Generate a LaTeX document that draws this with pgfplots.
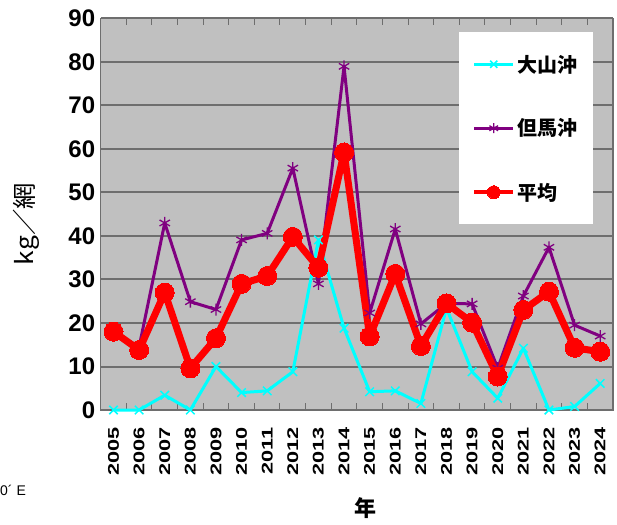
\documentclass[border=0pt]{standalone}
\usepackage{pgfplots}
\pgfplotsset{compat=1.18}
\usepackage{fontspec}
\setmainfont{Liberation Sans}
\newfontfamily\jp{Noto Sans CJK JP}
\definecolor{bg}{HTML}{C0C0C0}
\definecolor{gridc}{HTML}{6E6E6E}
\definecolor{cy}{HTML}{00FFFF}
\definecolor{pu}{HTML}{800080}
\definecolor{rd}{HTML}{FF0000}
\pgfplotstableread{
year daisen tajima avg
2005 0    18   18.0
2006 0    14.5 13.8
2007 3.4  43   27.0
2008 0    24.9 9.6
2009 10   23.1 16.5
2010 4.0  39.1 29.0
2011 4.4  40.6 30.8
2012 8.8  55.6 39.8
2013 39.1 29   32.7
2014 18.8 79   59.2
2015 4.2  22.3 16.9
2016 4.4  41.6 31.3
2017 1.5  19.8 14.7
2018 23.4 24.5 24.5
2019 8.8  24.4 20.1
2020 2.7  9.6  7.7
2021 14.2 26.2 23.0
2022 0    37.4 27.2
2023 0.8  19.5 14.3
2024 6.1  17   13.4
}\datatable
\begin{document}
\begin{tikzpicture}[x=1pt,y=1pt]
\path[use as bounding box] (0,0) rectangle (617,524);
\begin{axis}[
  at={(100.7pt,114pt)}, anchor=south west,
  scale only axis, width=512.3pt, height=391.5pt,
  xmin=2004.5, xmax=2024.5, ymin=0, ymax=90,
  clip=false,
  axis background/.style={fill=bg},
  axis line style={gridc, line width=1.2pt},
  ytick={0,10,...,90},
  xtick={2005,...,2024},
  minor xtick={2005.5,2006.5,...,2023.5},
  tick align=inside,
  major tick length=0pt,
  minor tick length=7pt,
  minor x tick style={gridc, line width=1pt},
  ymajorgrids,
  grid style={gridc, line width=2pt},
  /pgf/number format/assume math mode=true,
  yticklabel style={font=\bfseries\fontsize{24}{24}\selectfont, xshift=-2pt},
  xticklabel={\scalebox{1.4}[1]{\pgfmathprintnumber[fixed,precision=0,1000 sep={}]{\tick}}},
  x tick label style={rotate=90, anchor=east, font=\bfseries\fontsize{15.5}{15.5}\selectfont, xshift=-14pt},
  ylabel={\jp\scalebox{1.1}[1]{kg／網}},
  ylabel style={at={(rel axis cs:-0.146,0.475)}, anchor=center, font=\fontsize{24}{24}\selectfont},
  xlabel={\jp\bfseries 年},
  xlabel style={at={(rel axis cs:0.516,-0.250)}, anchor=center, font=\fontsize{22}{22}\selectfont},
  legend cell align=left,
  legend style={at={(0.699,0.9655)}, anchor=north west, fill=white, draw=none,
    inner xsep=13pt, inner ysep=0pt, row sep=0pt,
    font=\jp\bfseries\fontsize{20}{20}\selectfont,
    nodes={inner xsep=2pt, inner ysep=0pt, minimum height=64pt}},
  legend image code/.code={\draw[mark repeat=2, mark phase=2, #1] plot coordinates {(0pt,0pt) (19.5pt,0pt) (39pt,0pt)};},
]
\addplot[cy, line width=3pt, line join=round, mark=x, mark size=6pt, mark options={line width=1.5pt}, legend image post style={mark size=5pt}] table[x=year, y=daisen] {\datatable};
\addlegendentry{大山沖}
\addplot[pu, line width=3pt, line join=round, mark=asterisk, mark size=6pt, mark options={line width=1.3pt}, legend image post style={mark size=5pt}] table[x=year, y=tajima] {\datatable};
\addlegendentry{但馬沖}
\addplot[rd, line width=7pt, line join=round, mark=*, mark size=9.5pt, mark options={line width=0pt}, legend image post style={mark size=6.5pt, line width=4.5pt}] table[x=year, y=avg] {\datatable};
\addlegendentry{平均}
\end{axis}
\node[anchor=west, inner sep=0pt, font=\fontsize{14}{14}\selectfont] at (0,34) {0´ E};
\end{tikzpicture}
\end{document}
